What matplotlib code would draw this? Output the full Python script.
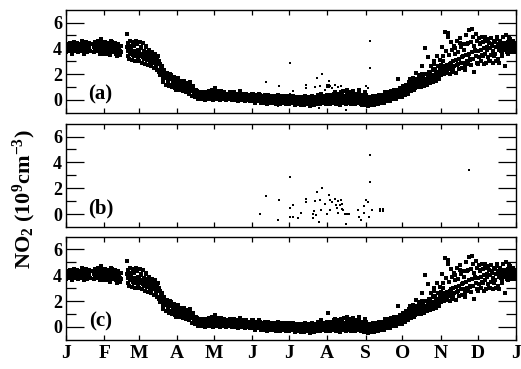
import numpy as np
import matplotlib.pyplot as plt

plt.rcParams['font.family'] = 'Liberation Serif'
plt.rcParams['font.weight'] = 'bold'
plt.rcParams['mathtext.fontset'] = 'custom'
plt.rcParams['mathtext.rm'] = 'Liberation Serif:bold'
plt.rcParams['mathtext.it'] = 'Liberation Serif:bold'
plt.rcParams['mathtext.bf'] = 'Liberation Serif:bold'

# day of year at which each month starts
month_start = [0, 31, 59, 90, 120, 151, 181, 212, 243, 273, 304, 334, 365]
month_labels = ['J', 'F', 'M', 'A', 'M', 'J', 'J', 'A', 'S', 'O', 'N', 'D', 'J']

# NO2: one row every 2 days, 5 values per row ([] = no data)
jan = [[3.7, 3.9, 4.0, 4.2, 4.3], [3.8, 3.9, 4.1, 4.2, 4.4], [3.6, 3.9, 4.0, 4.1, 4.3],
       [3.8, 4.0, 4.1, 4.3, 4.5], [3.7, 3.9, 4.0, 4.2, 4.4], [3.7, 3.8, 4.0, 4.1, 4.3],
       [3.8, 4.0, 4.1, 4.3, 4.6], [3.6, 3.9, 4.0, 4.2, 4.4], [3.7, 3.9, 4.1, 4.2, 4.5],
       [3.8, 4.0, 4.1, 4.3, 4.4], [], [3.7, 3.9, 4.1, 4.3, 4.5],
       [3.8, 4.0, 4.2, 4.4, 4.6], [3.6, 3.9, 4.1, 4.2, 4.4], [3.7, 4.0, 4.2, 4.4, 4.7],
       [3.6, 3.9, 4.0, 4.3, 4.5]]
feb = [[3.7, 3.9, 4.1, 4.3, 4.5], [3.6, 3.8, 4.0, 4.2, 4.4], [3.5, 3.8, 4.0, 4.3, 4.6],
       [3.7, 3.9, 4.1, 4.2, 4.5], [3.6, 3.8, 3.9, 4.1, 4.4], [3.4, 3.6, 3.9, 4.1, 4.3],
       [3.5, 3.7, 3.8, 4.0, 4.2], [], [],
       [3.4, 3.8, 4.1, 4.4, 5.1], [3.2, 3.6, 3.9, 4.2, 4.6], [3.1, 3.5, 3.8, 4.1, 4.5],
       [3.0, 3.4, 3.8, 4.2, 4.5], [3.2, 3.5, 3.9, 4.3, 4.6]]
mar = [[3.0, 3.4, 3.7, 4.1, 4.5], [2.9, 3.3, 3.6, 4.0, 4.4], [2.8, 3.2, 3.5, 3.8, 4.2],
       [2.7, 3.1, 3.4, 3.7, 4.1], [2.7, 3.0, 3.3, 3.6, 3.9], [2.6, 2.9, 3.2, 3.4, 3.7],
       [2.5, 2.8, 3.1, 3.3, 3.6], [2.3, 2.6, 2.9, 3.2, 3.4], [1.9, 2.2, 2.5, 2.8, 3.0],
       [1.6, 1.9, 2.1, 2.4, 2.6], [1.4, 1.7, 1.9, 2.1, 2.3], [1.2, 1.5, 1.7, 1.9, 2.1],
       [1.1, 1.3, 1.6, 1.8, 2.0], [1.0, 1.2, 1.5, 1.7, 1.9], [0.9, 1.1, 1.3, 1.5, 1.8],
       [0.8, 1.0, 1.2, 1.4, 1.6]]
apr = [[0.8, 1.0, 1.2, 1.4, 1.7], [0.8, 1.0, 1.1, 1.3, 1.5], [0.7, 0.9, 1.1, 1.3, 1.5],
       [0.6, 0.9, 1.0, 1.2, 1.4], [0.6, 0.8, 1.0, 1.1, 1.3], [0.5, 0.8, 0.9, 1.1, 1.4],
       [0.3, 0.5, 0.7, 0.9, 1.1], [0.2, 0.3, 0.5, 0.6, 0.8], [0.1, 0.2, 0.4, 0.5, 0.7],
       [0.1, 0.2, 0.3, 0.5, 0.6], [0.1, 0.2, 0.3, 0.4, 0.6], [0.0, 0.2, 0.3, 0.5, 0.6],
       [0.1, 0.2, 0.3, 0.5, 0.7], [0.1, 0.3, 0.4, 0.5, 0.7], [0.0, 0.2, 0.3, 0.5, 0.8]]
may = [[0.1, 0.2, 0.4, 0.6, 0.9], [0.1, 0.2, 0.3, 0.5, 0.7], [0.0, 0.2, 0.3, 0.4, 0.6],
       [0.1, 0.2, 0.3, 0.5, 0.7], [0.0, 0.1, 0.3, 0.4, 0.6], [0.0, 0.2, 0.3, 0.4, 0.5],
       [0.1, 0.2, 0.3, 0.5, 0.6], [0.0, 0.1, 0.2, 0.4, 0.5], [0.0, 0.2, 0.3, 0.4, 0.6],
       [-0.1, 0.1, 0.2, 0.4, 0.5], [0.0, 0.1, 0.3, 0.4, 0.7], [0.0, 0.1, 0.2, 0.3, 0.5],
       [-0.1, 0.1, 0.2, 0.4, 0.5], [0.0, 0.1, 0.2, 0.3, 0.5], [-0.1, 0.0, 0.2, 0.3, 0.4],
       [0.0, 0.1, 0.2, 0.3, 0.5]]
jun = [[-0.1, 0.0, 0.2, 0.3, 0.5], [-0.2, 0.0, 0.1, 0.3, 0.4], [-0.1, 0.1, 0.2, 0.3, 0.5],
       [-0.2, 0.0, 0.1, 0.2, 0.4], [-0.2, -0.1, 0.1, 0.2, 0.3], [-0.1, 0.0, 0.1, 0.3, 0.4],
       [-0.3, -0.1, 0.0, 0.2, 0.4], [-0.2, 0.0, 0.1, 0.2, 0.3], [-0.2, -0.1, 0.0, 0.2, 0.3],
       [-0.3, -0.1, 0.0, 0.1, 0.3], [-0.2, 0.0, 0.1, 0.2, 0.4], [-0.3, -0.1, 0.0, 0.1, 0.3],
       [-0.2, -0.1, 0.0, 0.2, 0.3], [-0.3, -0.2, 0.0, 0.1, 0.2], [-0.2, -0.1, 0.0, 0.1, 0.3]]
jul = [[-0.3, -0.1, 0.0, 0.1, 0.3], [-0.2, -0.1, 0.0, 0.2, 0.3], [-0.4, -0.2, -0.1, 0.1, 0.2],
       [-0.3, -0.1, 0.0, 0.1, 0.2], [-0.4, -0.2, -0.1, 0.0, 0.2], [-0.3, -0.2, -0.1, 0.1, 0.2],
       [-0.4, -0.2, 0.0, 0.1, 0.3], [-0.3, -0.2, -0.1, 0.0, 0.2], [-0.5, -0.3, -0.1, 0.0, 0.1],
       [-0.3, -0.2, 0.0, 0.1, 0.3], [-0.4, -0.2, -0.1, 0.1, 0.2], [-0.3, -0.1, 0.0, 0.2, 0.4],
       [-0.3, -0.1, 0.0, 0.1, 0.3], [-0.2, -0.1, 0.1, 0.2, 0.5], [-0.3, -0.1, 0.0, 0.2, 0.3],
       [-0.2, 0.0, 0.1, 0.3, 0.4]]
aug = [[-0.2, 0.0, 0.1, 0.3, 1.1], [-0.3, -0.1, 0.1, 0.2, 0.4], [-0.2, 0.0, 0.1, 0.3, 0.5],
       [-0.3, -0.1, 0.1, 0.3, 0.6], [-0.2, 0.0, 0.2, 0.3, 0.5], [-0.4, -0.1, 0.1, 0.3, 0.6],
       [-0.2, 0.0, 0.2, 0.4, 0.7], [-0.3, 0.0, 0.1, 0.3, 0.5], [-0.2, 0.0, 0.2, 0.4, 0.8],
       [-0.3, -0.1, 0.1, 0.3, 0.6], [-0.2, 0.0, 0.2, 0.4, 0.7], [-0.3, -0.1, 0.1, 0.3, 0.5],
       [-0.2, 0.0, 0.2, 0.4, 0.8], [-0.3, -0.1, 0.1, 0.2, 0.5], [-0.4, -0.1, 0.0, 0.2, 0.4],
       [-0.3, -0.2, 0.0, 0.1, 0.6]]
sep = [[-0.4, -0.2, -0.1, 0.1, 0.4], [-0.5, -0.3, -0.1, 0.0, 0.2], [-0.4, -0.2, -0.1, 0.1, 0.2],
       [-0.4, -0.3, -0.1, 0.0, 0.3], [-0.3, -0.2, 0.0, 0.1, 0.3], [-0.3, -0.1, 0.0, 0.2, 0.4],
       [-0.2, -0.1, 0.1, 0.2, 0.4], [-0.2, 0.0, 0.1, 0.3, 0.5], [-0.1, 0.1, 0.2, 0.4, 0.6],
       [0.0, 0.1, 0.3, 0.4, 0.6], [-0.1, 0.2, 0.3, 0.5, 0.7], [0.1, 0.2, 0.4, 0.5, 0.8],
       [0.1, 0.3, 0.4, 0.6, 0.8], [0.2, 0.3, 0.5, 0.7, 1.6], [0.2, 0.4, 0.5, 0.7, 0.9]]
oct_ = [[0.3, 0.5, 0.7, 0.9, 1.1], [0.4, 0.6, 0.8, 1.0, 1.2], [0.5, 0.7, 0.9, 1.1, 1.4],
        [0.7, 0.9, 1.1, 1.3, 1.6], [0.8, 1.0, 1.2, 1.4, 1.7], [0.9, 1.1, 1.3, 1.6, 2.1],
        [1.0, 1.2, 1.4, 1.6, 1.9], [1.0, 1.3, 1.5, 1.7, 2.0], [1.1, 1.3, 1.5, 1.8, 2.6],
        [1.2, 1.4, 1.6, 2.0, 4.0], [1.2, 1.5, 1.8, 2.2, 3.3], [1.3, 1.6, 1.8, 2.1, 2.6],
        [1.4, 1.7, 1.9, 2.3, 2.8], [1.5, 1.8, 2.0, 2.4, 3.0], [1.6, 1.9, 2.2, 2.6, 3.4],
        [1.7, 2.0, 2.3, 2.7, 3.1]]
nov = [[1.9, 2.2, 2.5, 3.0, 4.1], [2.0, 2.3, 2.6, 3.4, 5.3], [2.1, 2.4, 2.7, 3.8, 5.2],
       [2.0, 2.4, 2.8, 3.5, 4.9], [2.2, 2.5, 2.9, 3.9, 4.5], [2.3, 2.6, 3.0, 3.6, 4.2],
       [2.1, 2.7, 3.1, 4.0, 4.6], [2.4, 2.8, 3.2, 3.7, 4.4], [2.5, 2.9, 3.3, 4.1, 4.8],
       [2.3, 2.9, 3.4, 3.9, 4.3], [2.6, 3.0, 3.5, 4.3, 5.0], [2.8, 3.2, 3.6, 4.4, 5.4],
       [2.7, 3.1, 3.7, 4.5, 5.5], [2.2, 3.2, 3.8, 4.2, 4.9], [2.9, 3.4, 3.9, 4.6, 5.1]]
dec = [[2.8, 3.3, 3.8, 4.3, 4.8], [3.0, 3.5, 3.9, 4.4, 4.9], [2.8, 3.4, 4.0, 4.5, 4.9],
       [2.9, 3.6, 4.1, 4.6, 4.8], [3.0, 3.3, 3.9, 4.4, 4.7], [3.0, 3.5, 4.0, 4.2, 4.8],
       [2.9, 3.4, 3.8, 4.3, 4.6], [3.0, 3.6, 4.1, 4.5, 4.9], [2.9, 3.2, 3.9, 4.3, 4.7],
       [3.4, 3.8, 4.0, 4.3, 4.6], [3.6, 3.9, 4.1, 4.4, 4.9], [2.6, 3.7, 4.0, 4.3, 5.0],
       [3.6, 3.9, 4.2, 4.5, 4.8], [3.7, 4.0, 4.2, 4.4, 4.7], [3.8, 4.0, 4.1, 4.3, 4.6],
       [3.7, 3.9, 4.0, 4.2, 4.4]]

# extra points shown in panel (b) (also present in panel (a))
b_day = [157, 162, 173, 172, 182, 182, 184, 182, 184, 191, 188, 195, 195, 202, 204,
         208, 206, 207, 201, 203, 200, 205, 200, 210, 213, 214, 212, 214, 216, 218,
         219, 220, 221, 222, 223, 224, 225, 226, 221, 227, 228, 230, 224, 237, 238,
         239, 243, 242, 242, 245, 246, 247, 247, 248, 255, 257, 255, 257, 327]
b_val = [0.0, 1.4, 1.1, -0.5, 2.9, 0.5, 0.7, -0.2, -0.2, 0.1, -0.3, 1.2, 0.9, 1.0, 1.7,
         2.0, 1.1, 0.3, 0.2, -0.1, -0.3, -0.6, 0.0, 0.8, 1.5, 1.1, 0.0, 0.3, 0.9, 1.2,
         0.7, 0.5, 1.0, 0.7, 1.1, 0.8, 0.3, 0.0, 0.1, -0.8, 0.0, 0.0, 0.4, 0.3, -0.2,
         -0.5, 1.1, 0.6, 0.1, 0.9, -0.2, 2.5, 4.6, 0.3, 0.4, 0.4, 0.2, 0.2, 3.4]

months = [jan, feb, mar, apr, may, jun, jul, aug, sep, oct_, nov, dec]

# spread the 5 readings of each 2-day row across the two days
offsets = [0.0, 1.2, 0.4, 1.6, 0.8]
c_day, c_val = [], []
for start, rows in zip(month_start, months):
    for i, row in enumerate(rows):
        for k, v in enumerate(row):
            c_day.append(start + 2 * i + offsets[(k + 2 * i) % 5])
            c_val.append(v)

fig = plt.figure(figsize=(5.21, 3.69), dpi=100)
left, width = 0.127, 0.863
bottoms = [0.694, 0.385, 0.079]
height = 0.28

panels = [
    ('(a)', True, True),
    ('(b)', False, True),
    ('(c)', True, False),
]

for n, (label, show_c, show_b) in enumerate(panels):
    ax = fig.add_axes([left, bottoms[n], width, height])
    if show_c:
        ax.plot(c_day, c_val, 's', color='black', ms=2.2, mew=0, ls='none')
    if show_b:
        ax.plot(b_day, b_val, 's', color='black', ms=2.0, mew=0, ls='none')
    ax.set_xlim(0, 365)
    ax.set_ylim(-1, 7)
    ax.set_xticks(month_start)
    if n == 2:
        ax.set_xticklabels(month_labels, fontsize=14, fontweight='bold')
    else:
        ax.set_xticklabels([])
    ax.set_yticks([0, 2, 4, 6])
    ax.set_yticks([1, 3, 5], minor=True)
    ax.set_yticklabels(['0', '2', '4', '6'], fontsize=13, fontweight='bold')
    ax.tick_params(axis='x', direction='in', top=True, length=3.5, width=0.9, pad=4)
    ax.tick_params(axis='y', which='major', direction='in', right=True, length=13, width=0.9, pad=3)
    ax.tick_params(axis='y', which='minor', direction='in', right=True, length=7, width=0.9)
    for s in ax.spines.values():
        s.set_linewidth(1.0)
    ax.text(28, 0.4, label, fontsize=15, fontweight='bold', ha='center', va='center')

fig.text(0.047, 0.46, 'NO$_2$ (10$^9$cm$^{-3}$)', rotation=90, fontsize=16,
         fontweight='bold', ha='center', va='center')

fig.savefig('out.png', dpi=100)
